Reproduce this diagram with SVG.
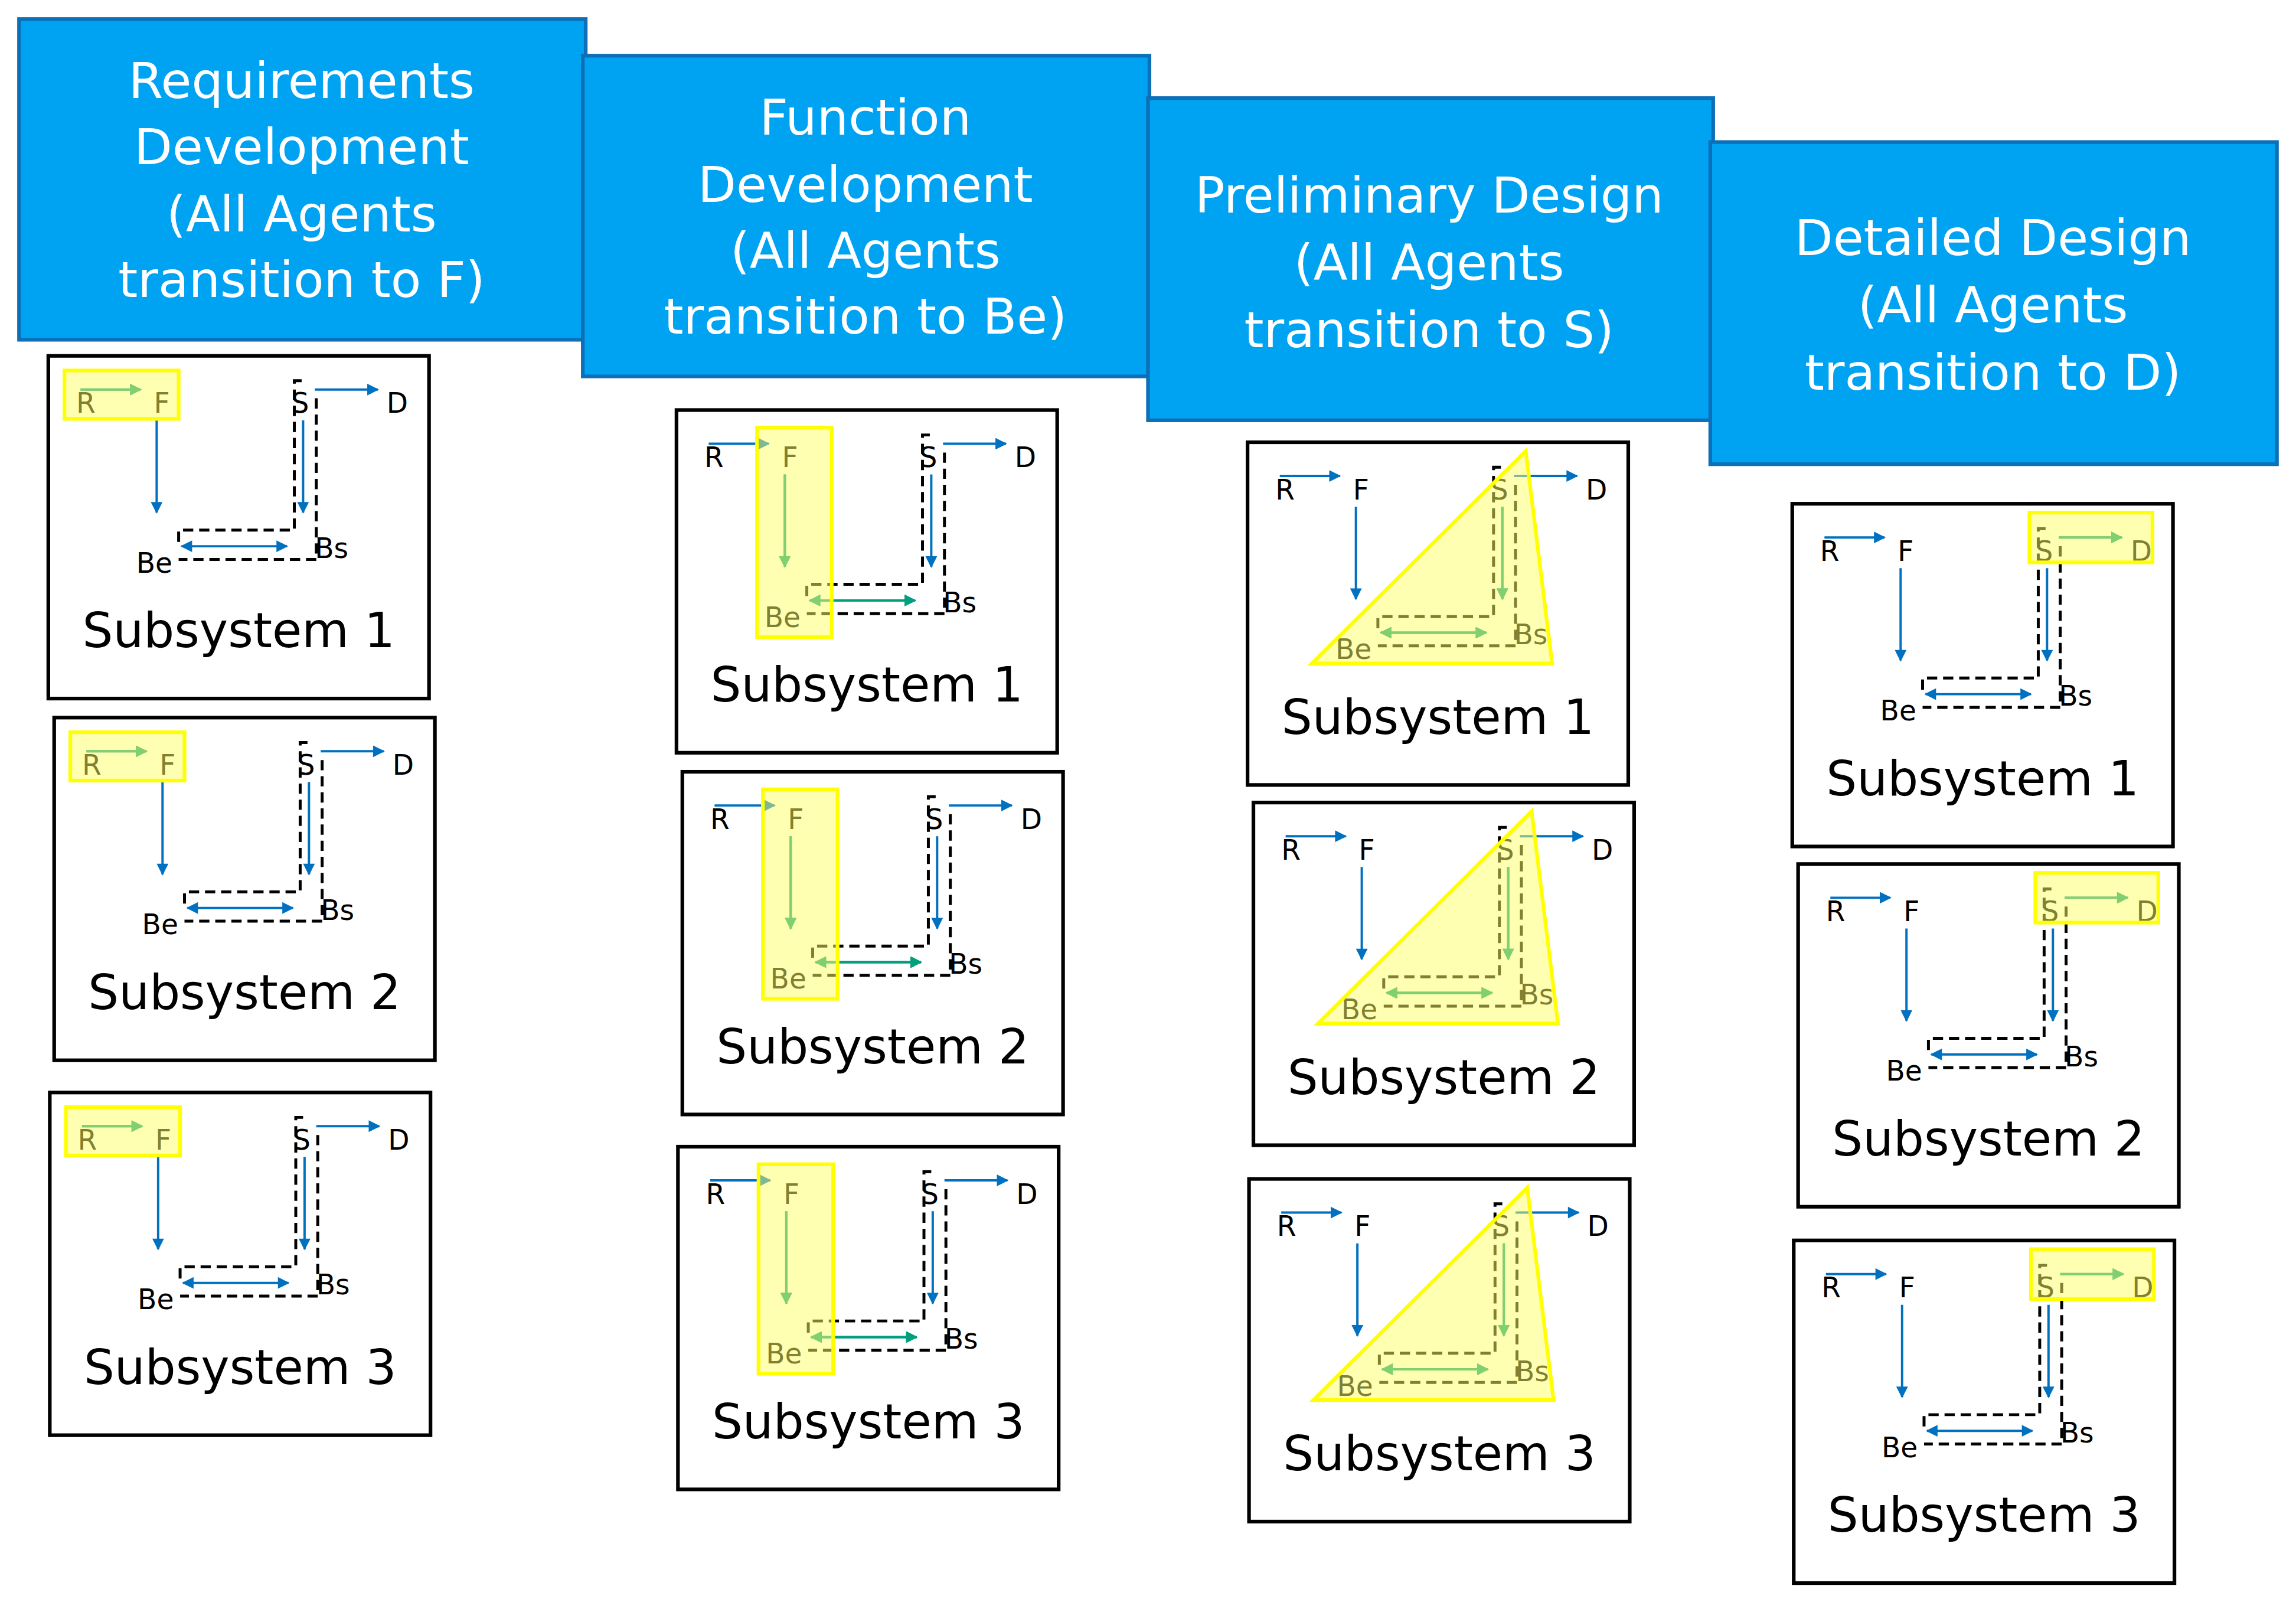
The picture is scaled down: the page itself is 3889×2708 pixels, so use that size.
<svg xmlns="http://www.w3.org/2000/svg" xmlns:xlink="http://www.w3.org/1999/xlink" width="3889" height="2708" viewBox="0 0 3889 2708">
<style>
.hdr{fill:#00A2F2;stroke:#0D6FB8;stroke-width:2.5}
.ht{font-family:"DejaVu Sans",sans-serif;font-size:34px;fill:#fff;text-anchor:middle}
.box{fill:#fff;stroke:#000;stroke-width:2.5}
.lbl{font-family:"DejaVu Sans",sans-serif;font-size:19px;fill:#000}
.ttl{font-family:"DejaVu Sans",sans-serif;font-size:33px;fill:#000;text-anchor:middle}
.ba{stroke:#0070C0;stroke-width:1.6;fill:none;marker-end:url(#mb)}
.ga{stroke:#00A07A;stroke-width:1.6;fill:none;marker-end:url(#mg)}
.dd{stroke:#000;stroke-width:2;fill:none;stroke-dasharray:7 4}
.hl{fill:#FFFF66;fill-opacity:0.5;stroke:#FFFF00;stroke-width:2.5}
</style>
<defs>
<marker id="mb" viewBox="0 0 10 10" refX="9" refY="5" markerWidth="5.5" markerHeight="5" orient="auto-start-reverse"><path d="M0,0L10,5L0,10z" fill="#0070C0"/></marker>
<marker id="mg" viewBox="0 0 10 10" refX="9" refY="5" markerWidth="5.5" markerHeight="5" orient="auto-start-reverse"><path d="M0,0L10,5L0,10z" fill="#00A07A"/></marker>
<g id="base">
<rect class="box" x="0" y="0" width="260" height="234"/>
<path class="dd" d="M89,127V119H168V17H177M183,29V139H89"/>
<line class="ba" x1="22" y1="23" x2="63" y2="23"/>
<line class="ba" x1="74" y1="44" x2="74" y2="107"/>
<line class="ba" x1="182" y1="23" x2="225" y2="23"/>
<line class="ba" x1="174" y1="44" x2="174" y2="107"/>
<line class="ba" x1="91" y1="130" x2="163" y2="130" style="marker-start:url(#mb)"/>
<text class="lbl" x="19" y="39">R</text><text class="lbl" x="72" y="39">F</text>
<text class="lbl" x="166" y="39">S</text><text class="lbl" x="231" y="39">D</text>
<text class="lbl" x="60" y="148">Be</text><text class="lbl" x="182" y="138">Bs</text>
</g>
<g id="o1"><line class="ga" x1="22" y1="23" x2="63" y2="23"/><rect class="hl" x="11" y="10" width="78" height="33"/></g>
<g id="o2"><line class="ga" x1="74" y1="44" x2="74" y2="107"/><line class="ga" x1="91" y1="130" x2="163" y2="130" style="marker-start:url(#mg)"/><rect class="hl" x="55" y="12" width="51" height="143"/></g>
<g id="o3"><line class="ga" x1="174" y1="44" x2="174" y2="107"/><line class="ga" x1="91" y1="130" x2="163" y2="130" style="marker-start:url(#mg)"/><polygon class="hl" points="44,151 190,6 208,151"/></g>
<g id="o4"><line class="ga" x1="182" y1="23" x2="225" y2="23"/><rect class="hl" x="162" y="6" width="84" height="34"/></g>
</defs>
<rect width="3889" height="2708" fill="#fff"/>
<g transform="scale(2.4802)">
<g id="h1"><rect class="hdr" x="13" y="13" width="387" height="219"/><text class="ht" x="206"><tspan x="206" y="67">Requirements</tspan><tspan x="206" y="112">Development</tspan><tspan x="206" y="158">(All Agents</tspan><tspan x="206" y="203">transition to F)</tspan></text></g>
<g id="h2"><rect class="hdr" x="398" y="38" width="387" height="219"/><text class="ht"><tspan x="591" y="92">Function</tspan><tspan x="591" y="138">Development</tspan><tspan x="591" y="183">(All Agents</tspan><tspan x="591" y="228">transition to Be)</tspan></text></g>
<g id="h3"><rect class="hdr" x="784" y="67" width="386" height="220"/><text class="ht"><tspan x="976" y="145">Preliminary Design</tspan><tspan x="976" y="191">(All Agents</tspan><tspan x="976" y="237">transition to S)</tspan></text></g>
<g id="h4"><rect class="hdr" x="1168" y="97" width="387" height="220"/><text class="ht"><tspan x="1361" y="174">Detailed Design</tspan><tspan x="1361" y="220">(All Agents</tspan><tspan x="1361" y="266">transition to D)</tspan></text></g>

<g id="c1s1" transform="translate(33,243)"><use xlink:href="#base"/><use xlink:href="#o1"/><text class="ttl" x="130" y="199">Subsystem 1</text></g>
<g id="c1s2" transform="translate(37,490)"><use xlink:href="#base"/><use xlink:href="#o1"/><text class="ttl" x="130" y="199">Subsystem 2</text></g>
<g id="c1s3" transform="translate(34,746)"><use xlink:href="#base"/><use xlink:href="#o1"/><text class="ttl" x="130" y="199">Subsystem 3</text></g>

<g id="c2s1" transform="translate(462,280)"><use xlink:href="#base"/><use xlink:href="#o2"/><text class="ttl" x="130" y="199">Subsystem 1</text></g>
<g id="c2s2" transform="translate(466,527)"><use xlink:href="#base"/><use xlink:href="#o2"/><text class="ttl" x="130" y="199">Subsystem 2</text></g>
<g id="c2s3" transform="translate(463,783)"><use xlink:href="#base"/><use xlink:href="#o2"/><text class="ttl" x="130" y="199">Subsystem 3</text></g>

<g id="c3s1" transform="translate(852,302)"><use xlink:href="#base"/><use xlink:href="#o3"/><text class="ttl" x="130" y="199">Subsystem 1</text></g>
<g id="c3s2" transform="translate(856,548)"><use xlink:href="#base"/><use xlink:href="#o3"/><text class="ttl" x="130" y="199">Subsystem 2</text></g>
<g id="c3s3" transform="translate(853,805)"><use xlink:href="#base"/><use xlink:href="#o3"/><text class="ttl" x="130" y="199">Subsystem 3</text></g>

<g id="c4s1" transform="translate(1224,344)"><use xlink:href="#base"/><use xlink:href="#o4"/><text class="ttl" x="130" y="199">Subsystem 1</text></g>
<g id="c4s2" transform="translate(1228,590)"><use xlink:href="#base"/><use xlink:href="#o4"/><text class="ttl" x="130" y="199">Subsystem 2</text></g>
<g id="c4s3" transform="translate(1225,847)"><use xlink:href="#base"/><use xlink:href="#o4"/><text class="ttl" x="130" y="199">Subsystem 3</text></g>
</g>
</svg>
